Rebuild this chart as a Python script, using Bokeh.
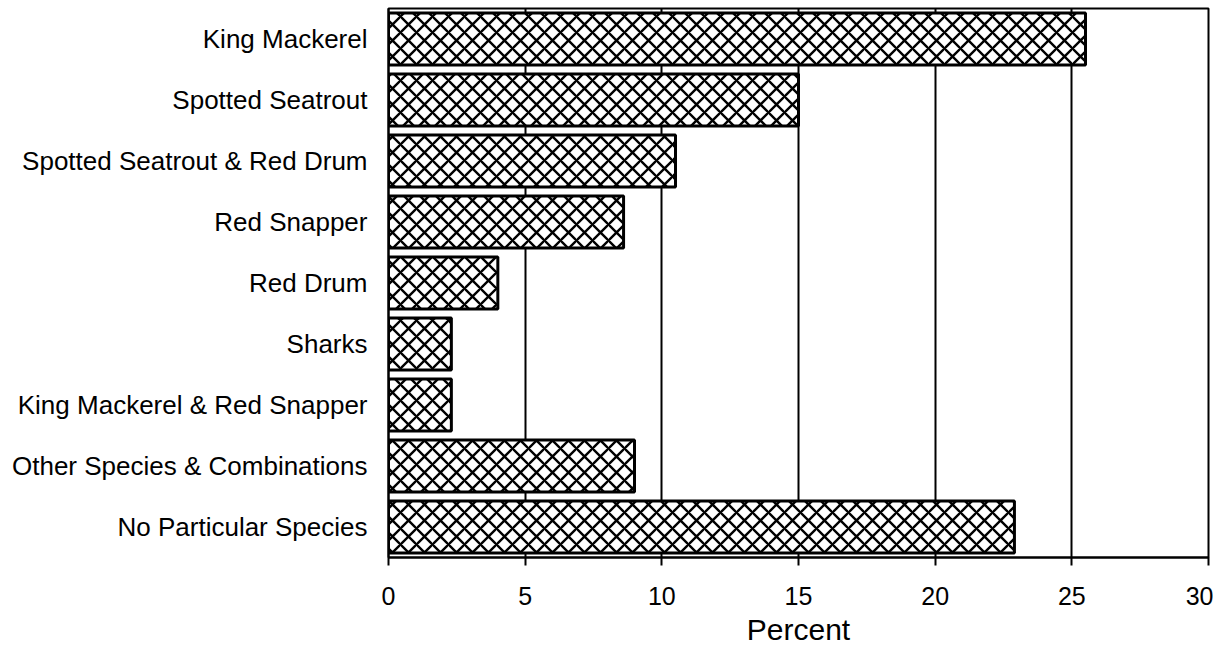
from bokeh.plotting import figure
from bokeh.models import FactorRange, Range1d, FixedTicker, ColumnDataSource
from bokeh.embed import file_html
from bokeh.resources import INLINE

categories = [
    "King Mackerel",
    "Spotted Seatrout",
    "Spotted Seatrout & Red Drum",
    "Red Snapper",
    "Red Drum",
    "Sharks",
    "King Mackerel & Red Snapper",
    "Other Species & Combinations",
    "No Particular Species",
]
percent = [25.5, 15.0, 10.5, 8.6, 4.0, 2.3, 2.3, 9.0, 22.9]
x_ticks = [0, 5, 10, 15, 20, 25, 30]
x_title = "Percent"

FONT = "Liberation Sans"

src = ColumnDataSource(dict(cat=categories, val=percent))

p = figure(
    width=1213, height=648,
    y_range=FactorRange(factors=list(reversed(categories))),
    x_range=Range1d(0, 30),
    output_backend="svg", toolbar_location=None,
    min_border_left=388, min_border_right=5,
    min_border_top=8, min_border_bottom=89,
)

p.hbar(y="cat", right="val", left=0, height=0.85, source=src,
       fill_color="white", line_color="black", line_width=3,
       hatch_pattern="x", hatch_color="black", hatch_scale=16,
       hatch_weight=2.4)

p.outline_line_color = "black"
p.outline_line_width = 2
p.outline_line_alpha = 1

p.xaxis.ticker = FixedTicker(ticks=x_ticks)
p.xaxis.axis_label = x_title
p.xaxis.axis_label_text_font = FONT
p.xaxis.axis_label_text_font_size = "30px"
p.xaxis.axis_label_text_font_style = "normal"
p.xaxis.axis_label_text_color = "black"
p.xaxis.axis_label_standoff = 5
p.xaxis.major_label_text_font = FONT
p.xaxis.major_label_text_font_size = "25px"
p.xaxis.major_label_text_color = "black"
p.xaxis.major_label_standoff = 21
p.xaxis.major_tick_out = 8
p.xaxis.major_tick_in = 0
p.xaxis.minor_tick_line_color = None
p.xaxis.major_tick_line_color = "black"
p.xaxis.major_tick_line_width = 2
p.xaxis.axis_line_color = "black"
p.xaxis.axis_line_width = 2

p.yaxis.major_label_text_font = FONT
p.yaxis.major_label_text_font_size = "26px"
p.yaxis.major_label_text_color = "black"
p.yaxis.major_tick_line_color = None
p.yaxis.major_tick_out = 0
p.yaxis.major_tick_in = 0
p.yaxis.major_label_standoff = 21
p.yaxis.axis_line_color = "black"
p.yaxis.axis_line_width = 2

p.xgrid.grid_line_color = "black"
p.xgrid.grid_line_width = 2
p.xgrid.ticker = FixedTicker(ticks=x_ticks)
p.ygrid.grid_line_color = None

p.background_fill_color = "white"
p.border_fill_color = "white"

open("out.html", "w").write(file_html(p, INLINE))
